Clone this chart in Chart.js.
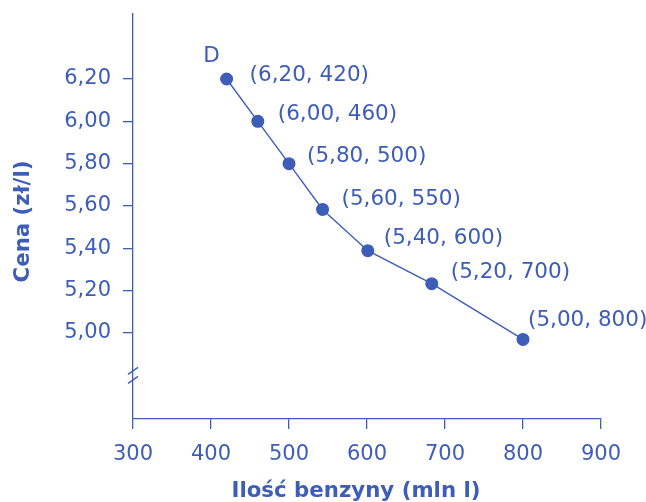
<!DOCTYPE html>
<html><head><meta charset="utf-8">
<script src="https://cdn.jsdelivr.net/npm/chart.js@4.4.1/dist/chart.umd.min.js"></script>
<style>html,body{margin:0;padding:0;background:#fff}#wrap{width:646px;height:502px;position:relative}</style>
</head><body><div id="wrap"><canvas id="c"></canvas></div>
<script>
// Data
const quantities = [420, 460, 500, 543, 601, 683, 800];
const prices = [6.20, 6.00, 5.80, 5.584, 5.389, 5.233, 4.97];
const pointLabels = ["(6,20, 420)", "(6,00, 460)", "(5,80, 500)", "(5,60, 550)", "(5,40, 600)", "(5,20, 700)", "(5,00, 800)"];
const curveLabel = "D";
const xTicks = [300, 400, 500, 600, 700, 800, 900];
const yTicks = [5.00, 5.20, 5.40, 5.60, 5.80, 6.00, 6.20];
const yTickLabels = ["5,00", "5,20", "5,40", "5,60", "5,80", "6,00", "6,20"];
const xRange = [300, 900];
const yRange = [4.594, 6.507];
const yBreakValue = 4.8;
const xTitle = "Ilość benzyny (mln l)";
const yTitle = "Cena (zł/l)";

const BLUE = "#3d5db9";
const FONT = "'DejaVu Sans', sans-serif";

// label offsets (style only)
const labelOffsets = [[23,-4],[20,-6.5],[18,-7.5],[19,-9.5],[16,-12.5],[19,-11.5],[5,-18.5]];

const labelPlugin = {
  id: 'labels',
  afterDatasetsDraw(chart) {
    const ctx = chart.ctx;
    const meta = chart.getDatasetMeta(0);
    const ys = chart.scales.y, xs = chart.scales.x;
    ctx.save();
    ctx.fillStyle = BLUE;
    ctx.font = "21.5px " + FONT;
    ctx.textBaseline = 'middle';
    ctx.textAlign = 'left';
    meta.data.forEach((el, i) => {
      const o = labelOffsets[i];
      ctx.fillText(pointLabels[i], el.x + o[0], el.y + o[1]);
    });
    const p0 = meta.data[0];
    ctx.textAlign = 'center';
    ctx.fillText(curveLabel, p0.x - 15, p0.y - 23);
    // axis titles
    ctx.font = "bold 21.3px " + FONT;
    ctx.textBaseline = 'middle';
    ctx.fillText(xTitle, (xs.left + xs.right) / 2 - 11, 491);
    ctx.save();
    ctx.translate(23, (ys.top + ys.bottom) / 2 + 5);
    ctx.rotate(-Math.PI / 2);
    ctx.fillText(yTitle, 0, 0);
    ctx.restore();
    // axis break marks
    const by = ys.getPixelForValue(yBreakValue);
    const bx = xs.left;
    ctx.strokeStyle = BLUE;
    ctx.lineWidth = 1.3;
    [-4.5, 4.5].forEach(d => {
      ctx.beginPath();
      ctx.moveTo(bx - 5, by + d + 3.5);
      ctx.lineTo(bx + 5, by + d - 3.5);
      ctx.stroke();
    });
    ctx.restore();
  }
};

new Chart(document.getElementById('c'), {
  type: 'scatter',
  data: {
    datasets: [{
      data: quantities.map((q, i) => ({x: q, y: prices[i]})),
      showLine: true,
      borderColor: BLUE,
      borderWidth: 1.4,
      backgroundColor: BLUE,
      pointBackgroundColor: BLUE,
      pointBorderColor: BLUE,
      pointRadius: 5.8,
      tension: 0,
      clip: false
    }]
  },
  options: {
    responsive: true,
    maintainAspectRatio: false,
    animation: false,
    events: [],
    layout: { padding: { top: 14, right: 45, left: 0, bottom: 0 } },
    plugins: { legend: { display: false }, tooltip: { enabled: false } },
    scales: {
      x: {
        type: 'linear', min: xRange[0], max: xRange[1],
        afterBuildTicks: s => { s.ticks = xTicks.map(v => ({value: v})); },
        ticks: { color: BLUE, font: { family: FONT, size: 21 }, padding: 13, maxRotation: 0 },
        grid: { drawOnChartArea: false, drawTicks: true, tickLength: 10, color: BLUE, lineWidth: 1.3 },
        border: { color: BLUE, width: 1.3 },
        title: { display: false },
        afterFit: s => { s.height = 83; s.paddingLeft = 0; s.paddingRight = 0; }
      },
      y: {
        type: 'linear', min: yRange[0], max: yRange[1],
        afterBuildTicks: s => { s.ticks = yTicks.map(v => ({value: v})); },
        ticks: { color: BLUE, font: { family: FONT, size: 21 }, padding: 12,
          callback: (v) => { const i = yTicks.findIndex(t => Math.abs(t - v) < 1e-6); return i >= 0 ? yTickLabels[i] : ''; } },
        grid: { drawOnChartArea: false, drawTicks: true, tickLength: 10, color: BLUE, lineWidth: 1.3 },
        border: { color: BLUE, width: 1.3 },
        title: { display: false },
        afterFit: s => { s.width = 133; s.paddingTop = 0; s.paddingBottom = 0; }
      }
    }
  },
  plugins: [labelPlugin]
});
</script>
</body></html>
